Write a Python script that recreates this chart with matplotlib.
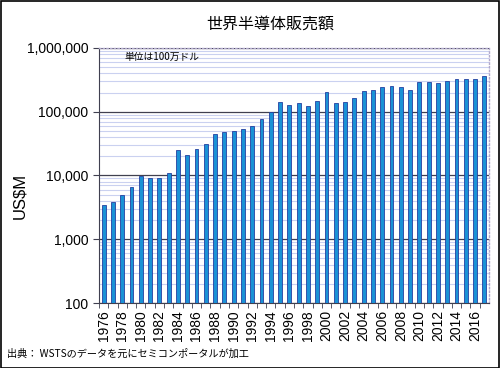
import matplotlib
matplotlib.use("Agg")
import matplotlib.pyplot as plt
from matplotlib.ticker import FixedLocator, FuncFormatter, LogLocator, NullFormatter
from matplotlib.patches import Rectangle

years = list(range(1976, 2018))
sales = [3400, 3830, 4870, 6560, 9770, 9200, 9200, 10860, 25500, 21000,
         26100, 31300, 44300, 48100, 50500, 53600, 59700, 75900, 100000, 143000,
         128500, 136500, 122700, 145000, 200500, 136500, 140000, 165500, 210500, 221000,
         243000, 249000, 243000, 221000, 294000, 294000, 287000, 302000, 331000, 323000,
         331000, 369000]
ytick_vals = [100, 1000, 10000, 100000, 1000000]
title = "世界半導体販売額"
ylabel = "US$M"
unit_note = "単位は100万ドル"
source = "出典： WSTSのデータを元にセミコンポータルが加工"

fams = ['Liberation Sans', 'Noto Sans CJK JP', 'DejaVu Sans']
plt.rcParams['font.family'] = fams

fig = plt.figure(figsize=(5.0, 3.68), dpi=100)
fig.patches.append(Rectangle((0.001, 0.001), 0.997, 0.996, transform=fig.transFigure,
                             fill=False, edgecolor='black', linewidth=1.2))
ax = fig.add_axes([0.198, 0.1766, 0.78, 0.693])

ax.bar(years, sales, width=0.42, bottom=0, color='#1a92d6', edgecolor='#2440a0', linewidth=0.6, zorder=3)
ax.set_yscale('log')
ax.set_ylim(100, 1000000)
ax.set_xlim(1975.5, 2017.5)

ax.yaxis.set_major_locator(FixedLocator(ytick_vals))
ax.yaxis.set_major_formatter(FuncFormatter(lambda v, p: f"{int(round(v)):,}"))
ax.yaxis.set_minor_locator(LogLocator(base=10, subs=range(2, 10)))
ax.yaxis.set_minor_formatter(NullFormatter())
ax.grid(which='minor', axis='y', color='#cad1f0', linewidth=0.8, zorder=0)
ax.grid(which='major', axis='y', color='#404050', linewidth=0.9, zorder=1)
ax.tick_params(axis='y', which='major', labelsize=10, length=4, direction='out', color='#404050')
ax.tick_params(axis='y', which='minor', length=0)

ax.set_xticks(years[::2])
ax.set_xticklabels([str(y) for y in years[::2]], rotation=90, fontsize=10)
ax.set_xticks([y + 0.5 for y in years[:-1]] + [1975.5], minor=True)
ax.tick_params(axis='x', which='major', length=0, pad=5)
ax.tick_params(axis='x', which='minor', length=3.5, direction='out', color='#404050')

for s in ['top', 'right']:
    ax.spines[s].set_color('#b0a8cc')
    ax.spines[s].set_linestyle(':')
    ax.spines[s].set_linewidth(1.0)
ax.spines['left'].set_color('#404050')
ax.spines['bottom'].set_color('#404050')

ax.set_ylabel(ylabel, fontsize=12, labelpad=8)
ax.yaxis.set_label_coords(-0.185, 0.42)

fig.text(0.54, 0.935, title, ha='center', va='center', fontsize=11.5, family=['Noto Sans CJK JP'])
ax.text(0.066, 0.965, unit_note, transform=ax.transAxes, ha='left', va='center', fontsize=7,
        family=['Noto Sans CJK JP'], zorder=5)
fig.text(0.014, 0.04, source, ha='left', va='center', fontsize=7.3, family=['Noto Sans CJK JP', 'DejaVu Sans'])

fig.savefig('out.png', dpi=100)
